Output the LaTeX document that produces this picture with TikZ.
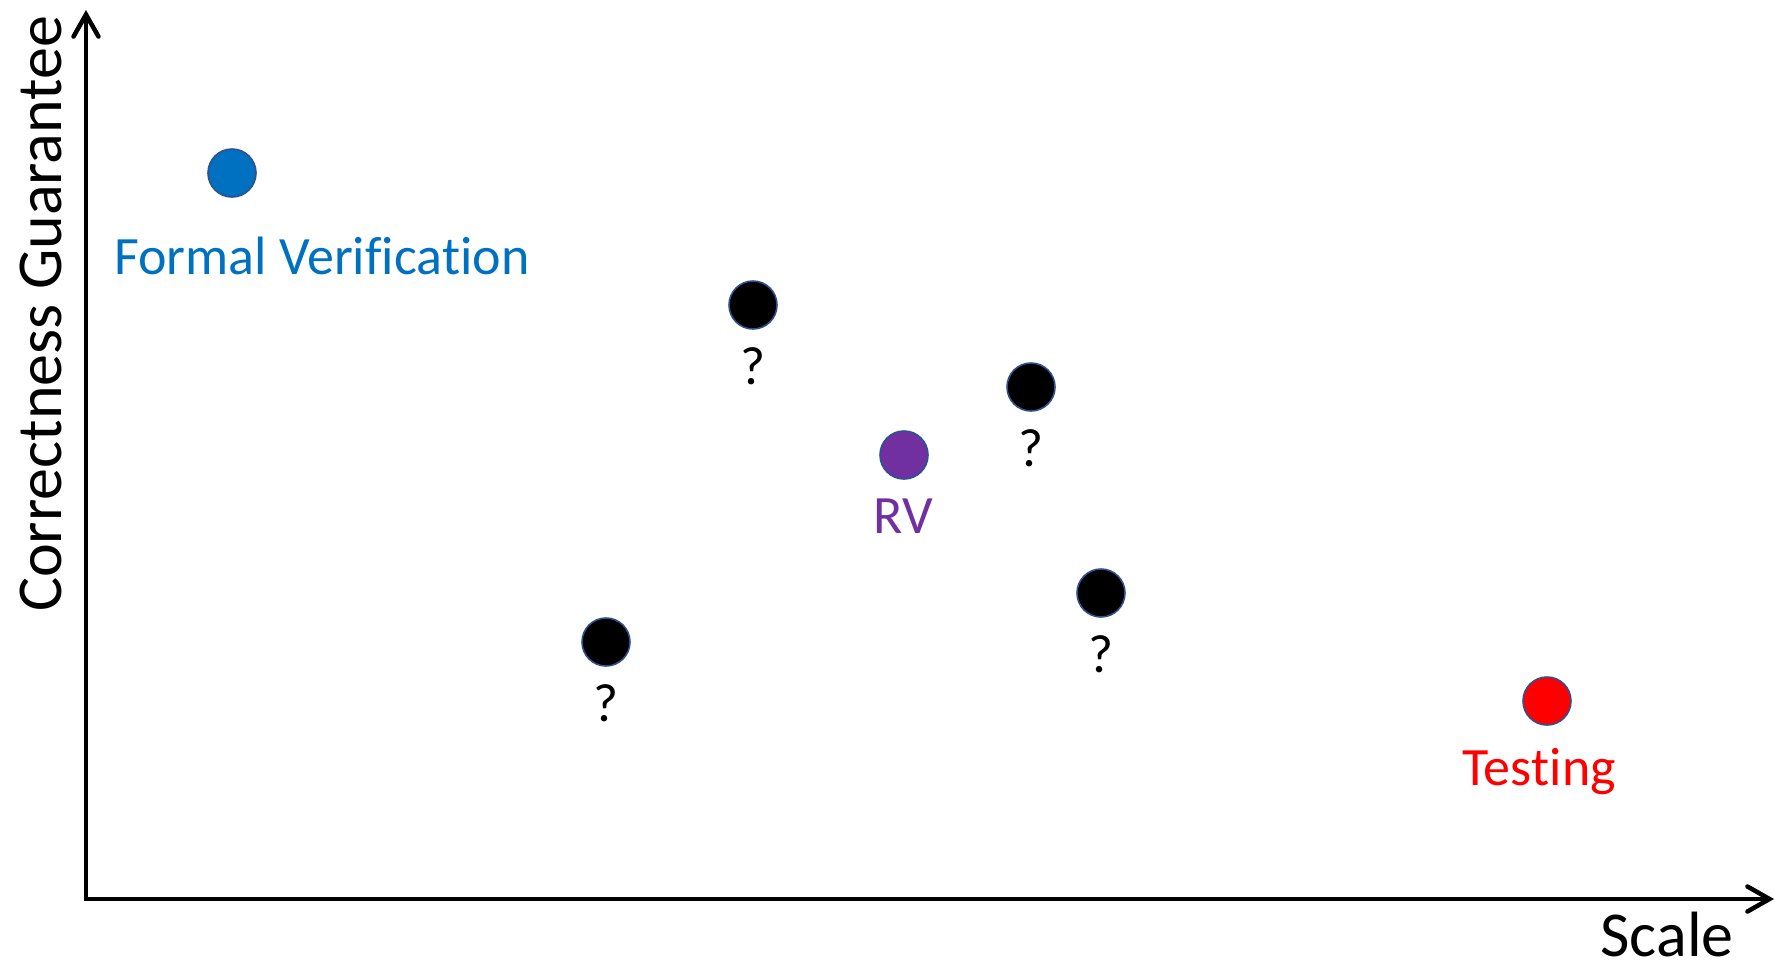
\documentclass[tikz,border=0pt]{standalone}
\usepackage{fontspec}
\setmainfont{Carlito}[Ligatures={NoCommon},RawFeature={-calt}]
\usetikzlibrary{arrows.meta}
\definecolor{fvblue}{HTML}{0070C0}
\definecolor{rvpurple}{HTML}{7030A0}
\definecolor{tred}{HTML}{FF0000}
\definecolor{rimblue}{HTML}{2F528F}
\begin{document}
\begin{tikzpicture}[x=0.5bp,y=-0.5bp,
  dot/.style={circle,draw=rimblue,line width=0.8bp,minimum size=24bp,inner sep=0pt},
  lbl/.style={font=\fontsize{27bp}{32bp}\selectfont,anchor=base,inner sep=0pt},
  axislbl/.style={font=\fontsize{32bp}{38bp}\selectfont,anchor=base,inner sep=0pt},
  axis/.style={line width=2.25bp,{Straight Barb[length=11bp,width=12.5bp,line cap=round]}-{Straight Barb[length=11bp,width=12.5bp,line cap=round]}}]
\useasboundingbox (0,0) rectangle (1775,970);
\coordinate (ytop) at (86,10);
\coordinate (o) at (86,899);
\coordinate (xend) at (1774,899);
\draw[axis] (ytop) -- (o) -- (xend);
\node[axislbl,rotate=90] (ylab) at (61,314) {Correctness Guarantee};
\node[axislbl] (xlab) at (1667,956) {Scale};
\node[dot,fill=fvblue] (fv) at (232,173) {};
\node[lbl,text=fvblue] (fvl) at (322,274) {Formal Verifica\kern0pt tion};
\node[dot,fill=black] (q1) at (753,305) {};
\node[lbl] (q1l) at (753,384) {?};
\node[dot,fill=black] (q2) at (1031,387) {};
\node[lbl] (q2l) at (1031,466) {?};
\node[dot,fill=black] (q3) at (606,642) {};
\node[lbl] (q3l) at (606,721) {?};
\node[dot,fill=black] (q4) at (1101,593) {};
\node[lbl] (q4l) at (1101,672) {?};
\node[dot,fill=rvpurple] (rv) at (904,455) {};
\node[lbl,text=rvpurple] (rvl) at (903,533) {RV};
\node[dot,fill=tred] (t) at (1547,701) {};
\node[lbl,text=tred] (tl) at (1539,785) {Tes\kern0pt ting};
\end{tikzpicture}
\end{document}
